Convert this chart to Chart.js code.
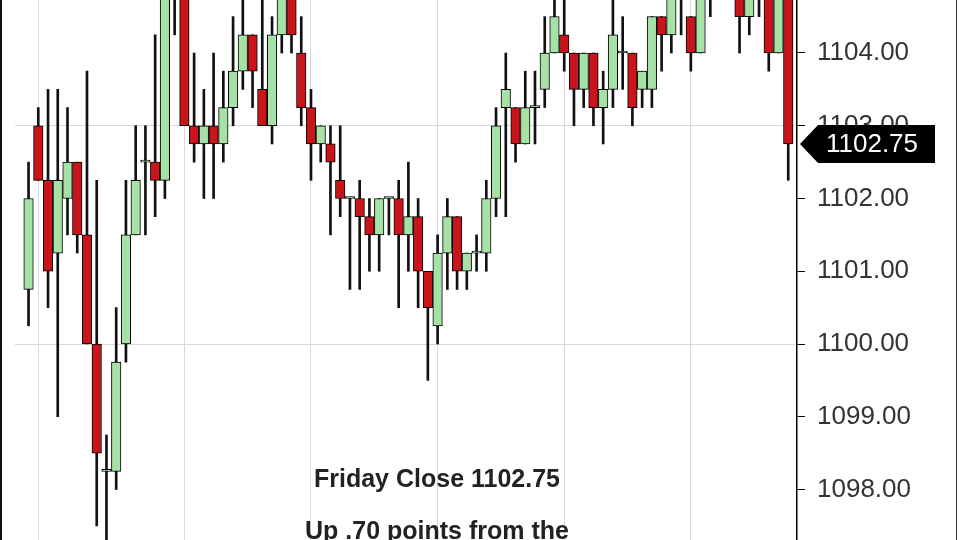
<!DOCTYPE html>
<html><head><meta charset="utf-8">
<script src="https://cdn.jsdelivr.net/npm/chart.js@4.4.1/dist/chart.umd.min.js"></script>
<style>
html,body{margin:0;padding:0;background:#fff;overflow:hidden}
#wrap{position:relative;width:960px;height:540px;overflow:hidden;background:#fff}
canvas{position:absolute;left:0;top:0}
.note{position:absolute;left:0;width:874px;text-align:center;font:bold 25px/25px "Liberation Sans",Arial,sans-serif;color:#222;white-space:nowrap}
</style></head><body>
<div id="wrap"><canvas id="c" width="960" height="540"></canvas>
<div class="note" id="n1" style="top:466px"></div>
<div class="note" id="n2" style="top:518px"></div>
</div>
<script>
// OHLC values, one entry per bar
const opens  = [1100.75,1103.00,1102.25,1101.25,1102.00,1102.50,1101.50,1100.00,1098.25,1098.25,
                1100.00,1101.50,1102.50,1102.50,1102.25,1105.00,1105.25,1103.00,1102.75,1103.00,
                1102.75,1103.25,1103.75,1104.25,1103.50,1103.00,1104.25,1105.00,1104.00,1103.25,
                1102.75,1102.75,1102.25,1102.00,1102.00,1101.75,1101.50,1102.00,1102.00,1101.50,
                1101.75,1101.00,1100.25,1101.25,1101.75,1101.00,1101.25,1101.25,1102.00,1103.25,
                1103.25,1102.75,1103.25,1103.50,1104.00,1104.25,1104.00,1103.50,1104.00,1103.25,
                1103.50,1104.00,1104.00,1103.50,1103.50,1104.50,1104.25,1105.00,1104.50,1104.00,
                1105.00,1105.25,1105.50,1105.25,1104.50,1105.00,1105.25,1104.00,1105.00];
const highs  = [1102.50,1103.25,1103.50,1103.50,1103.25,1102.50,1103.75,1102.25,1098.75,1100.50,
                1102.25,1103.00,1103.00,1104.25,1105.25,1105.50,1105.50,1104.00,1103.50,1104.00,
                1103.75,1104.50,1105.00,1104.25,1105.00,1104.50,1105.25,1105.25,1104.50,1103.50,
                1103.00,1103.00,1103.00,1102.00,1102.25,1102.00,1102.00,1102.00,1102.25,1102.50,
                1102.00,1101.00,1101.50,1102.00,1101.75,1101.25,1101.50,1102.25,1103.25,1104.00,
                1103.25,1103.75,1103.75,1104.50,1105.00,1105.00,1104.00,1104.00,1104.00,1103.75,
                1105.00,1104.50,1104.00,1103.75,1104.50,1104.50,1105.25,1105.50,1104.50,1105.25,
                1105.50,1105.75,1105.75,1105.50,1105.25,1105.50,1105.50,1105.25,1105.25];
const lows   = [1100.25,1102.25,1100.50,1099.00,1101.50,1101.25,1100.00,1097.50,1097.00,1098.00,
                1099.75,1101.50,1101.50,1101.75,1102.00,1104.25,1103.00,1102.50,1102.00,1102.00,
                1102.50,1103.00,1103.50,1103.25,1103.00,1102.75,1104.00,1104.00,1103.00,1102.25,
                1102.50,1101.50,1101.75,1100.75,1100.75,1101.00,1101.00,1101.50,1100.50,1101.00,
                1100.50,1099.50,1100.00,1100.75,1100.75,1100.75,1101.00,1101.00,1101.75,1101.75,
                1102.50,1102.75,1102.75,1103.25,1104.00,1103.75,1103.00,1103.25,1103.00,1102.75,
                1103.25,1103.50,1103.00,1103.25,1103.25,1103.75,1104.00,1104.25,1103.75,1104.00,
                1104.50,1105.00,1105.00,1104.00,1104.25,1104.50,1103.75,1104.00,1102.25];
const closes = [1102.00,1102.25,1101.00,1102.25,1102.50,1101.50,1100.00,1098.50,1098.25,1099.75,
                1101.50,1102.25,1102.50,1102.25,1105.00,1105.25,1103.00,1102.75,1103.00,1102.75,
                1103.25,1103.75,1104.25,1103.75,1103.00,1104.25,1105.00,1104.25,1103.25,1102.75,
                1103.00,1102.50,1102.00,1102.00,1101.75,1101.50,1102.00,1102.00,1101.50,1101.75,
                1101.00,1100.50,1101.25,1101.75,1101.00,1101.25,1101.25,1102.00,1103.00,1103.50,
                1102.75,1103.25,1103.25,1104.00,1104.50,1104.00,1103.50,1104.00,1103.25,1103.50,
                1104.25,1104.00,1103.25,1103.75,1104.50,1104.25,1105.00,1105.25,1104.00,1105.00,
                1105.25,1105.50,1105.25,1104.50,1105.00,1105.25,1104.00,1105.00,1102.75];
const bars = opens.map((_, i) => i + 1);          // bar numbers (categories)
const gridBars = [2, 17, 30, 43, 56, 69];         // bars carrying a vertical grid line
const priceTicks = [1098, 1099, 1100, 1101, 1102, 1103, 1104];
const gridPrices = [1100, 1103];
const notes = ['Friday Close 1102.75', 'Up .70 points from the'];

const GREEN = '#a6e2a6', RED = '#c9141b';
const FONT = '"Liberation Sans", Arial, sans-serif';

document.getElementById('n1').textContent = notes[0];
document.getElementById('n2').textContent = notes[1];

const frame = {
  id: 'frame',
  beforeDraw(chart) {
    const c = chart.ctx; c.save(); c.fillStyle = '#fff'; c.fillRect(0, 0, chart.width, chart.height); c.restore();
  },
  afterDraw(chart) {
    const c = chart.ctx, area = chart.chartArea, ys = chart.scales.y;
    const v = closes[closes.length - 1];
    const py = ys.getPixelForValue(v);
    const x0 = area.right + 3, xb = x0 + 18, x1 = 935, h = 19;
    c.save();
    c.fillStyle = '#000';
    c.beginPath();
    c.moveTo(x0, py); c.lineTo(xb, py - h); c.lineTo(x1, py - h); c.lineTo(x1, py + h); c.lineTo(xb, py + h);
    c.closePath(); c.fill();
    c.fillStyle = '#fff'; c.font = '26px ' + FONT; c.textAlign = 'center'; c.textBaseline = 'middle';
    c.fillText(v.toFixed(2), 872, py + 1);
    c.fillStyle = '#111'; c.fillRect(0, 0, 2, chart.height);
    c.fillStyle = '#333'; c.fillRect(956, 0, 1, chart.height);
    c.restore();
  }
};

new Chart(document.getElementById('c'), {
  type: 'bar',
  data: {
    datasets: [
      {
        label: 'body',
        data: bars.map((b, i) => ({ x: b, y: [opens[i], closes[i]] })),
        backgroundColor: ctx => closes[ctx.dataIndex] >= opens[ctx.dataIndex] ? GREEN : RED,
        borderColor: '#000', borderWidth: 1, borderSkipped: false,
        barThickness: 9.5, minBarLength: 2, grouped: false, order: 0
      },
      {
        label: 'wick',
        data: bars.map((b, i) => ({ x: b, y: [lows[i], highs[i]] })),
        backgroundColor: '#111', borderWidth: 0,
        barThickness: 2, grouped: false, order: 1
      }
    ]
  },
  options: {
    responsive: false, animation: false,
    layout: { padding: { left: 15, right: 0, top: 0, bottom: 0 } },
    plugins: { legend: { display: false }, tooltip: { enabled: false } },
    scales: {
      x: {
        type: 'linear', min: -0.39, max: 79.9, offset: false,
        afterBuildTicks: s => { s.ticks = gridBars.map(v => ({ value: v })); },
        ticks: { display: false },
        grid: { color: '#d9d9d9', lineWidth: 1, drawTicks: false, offset: false },
        border: { display: false },
        afterFit: s => { s.height = 0; s.paddingLeft = 0; s.paddingRight = 0; s.paddingTop = 0; s.paddingBottom = 0; }
      },
      y: {
        position: 'right', min: 1097.306, max: 1104.7285, beginAtZero: false,
        afterBuildTicks: s => { s.ticks = priceTicks.map(v => ({ value: v })); },
        ticks: { callback: v => Number(v).toFixed(2), font: { family: FONT, size: 26 }, color: '#333', padding: 12 },
        grid: {
          color: c => (c.tick && gridPrices.includes(c.tick.value)) ? '#d9d9d9' : 'rgba(0,0,0,0)',
          tickColor: '#000', tickLength: 8, lineWidth: 1
        },
        border: { display: true, color: '#000', width: 1.5 },
        afterFit: s => { s.width = 163; s.paddingTop = 0; s.paddingBottom = 0; s.paddingLeft = 0; s.paddingRight = 0; }
      }
    }
  },
  plugins: [frame]
});
</script>
</body></html>
